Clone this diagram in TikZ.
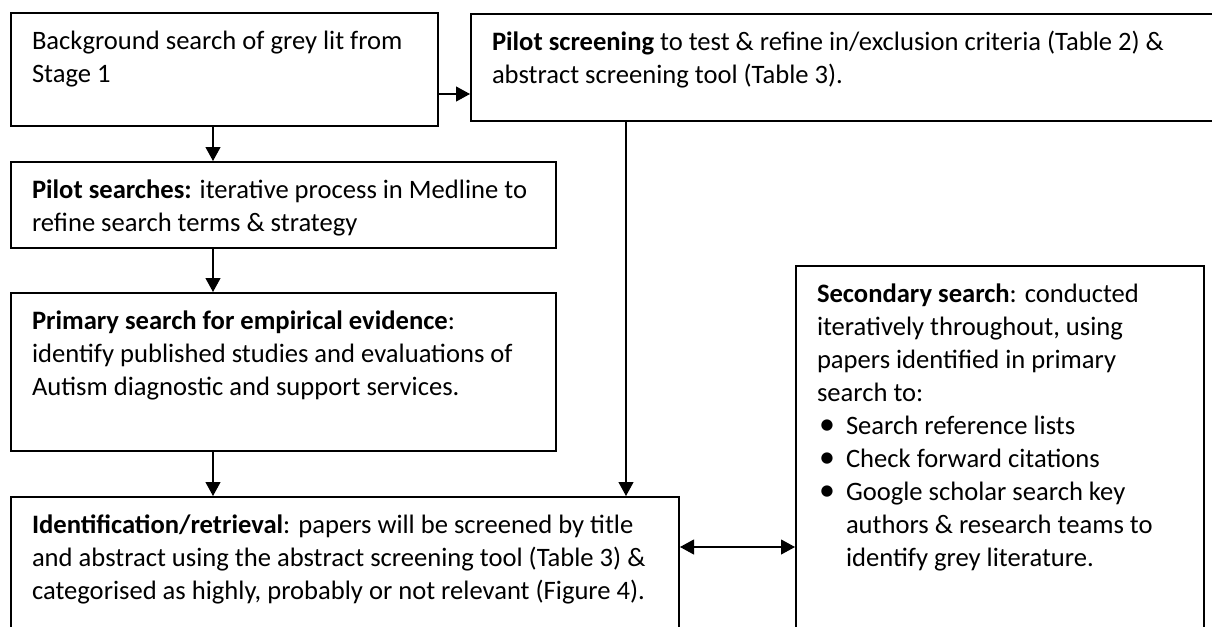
\documentclass[tikz,border=0pt]{standalone}
\usepackage{fontspec}
\setmainfont{Carlito}
\usetikzlibrary{arrows.meta}
\newcommand\bxt[3]{\parbox[c][#2][t]{#1}{\fontsize{13.3pt}{16.5pt}\selectfont\raggedright\leftskip=10.5pt\relax\rule{0pt}{18pt}#3}}
\newcommand\bul{\hspace*{1pt}\makebox[13.5pt][l]{\scalebox{1.2}{\textbullet}}}
\tikzset{
  bx/.style={draw, line width=1pt, fill=white, anchor=north west, inner sep=0pt},
  arr/.style={line width=0.55pt, -{Triangle[length=7pt,width=7.5pt]}},
  darr/.style={line width=0.55pt, {Triangle[length=7pt,width=7.5pt]}-{Triangle[length=7pt,width=7.5pt]}}
}
\begin{document}
\begin{tikzpicture}[x=0.5pt,y=-0.5pt]
\useasboundingbox (0,0) rectangle (1212,627);
\clip (0,0) rectangle (1212,627);
\node[bx] (box1) at (10,12) {\bxt{213.5pt}{56.5pt}{Background search of grey lit from\\Stage 1}};
\node[bx] (box2) at (470,13) {\bxt{380pt}{53.5pt}{\textbf{Pilot screening} to test \& refine in/exclusion criteria (Table 2) \&\\abstract screening tool (Table 3).}};
\node[bx] (box3) at (10,161) {\bxt{272.5pt}{43pt}{\textbf{Pilot searches:} iterative process in Medline to\\refine search terms \& strategy}};
\node[bx] (box4) at (10,292) {\bxt{272.5pt}{79pt}{\textbf{Primary search for empirical evidence}:\\identify published studies and evaluations of\\Autism diagnostic and support services.}};
\node[bx] (ident) at (10,496) {\bxt{334pt}{85pt}{\textbf{Identification/retrieval}: papers will be screened by title\\and abstract using the abstract screening tool (Table 3) \&\\categorised as highly, probably or not relevant (Figure 4).}};
\node[bx] (sec) at (795,265) {\bxt{204pt}{200pt}{\textbf{Secondary search}: conducted\\iteratively throughout, using\\papers identified in primary\\search to:\\\bul Search reference lists\\\bul Check forward citations\\\bul Google scholar search key\\\hspace*{14.5pt}authors \& research teams to\\\hspace*{14.5pt}identify grey literature.}};
\coordinate (ya) at (0,94);
\coordinate (yb) at (0,547);
\coordinate (xa) at (213,0);
\coordinate (xb) at (626,0);
\draw[arr] (box1.east |- ya) -- (box2.west |- ya);
\draw[arr] (box1.south -| xa) -- (box3.north -| xa);
\draw[arr] (box3.south -| xa) -- (box4.north -| xa);
\draw[arr] (box4.south -| xa) -- (ident.north -| xa);
\draw[arr] (box2.south -| xb) -- (ident.north -| xb);
\draw[darr] (ident.east |- yb) -- (sec.west |- yb);
\end{tikzpicture}
\end{document}
